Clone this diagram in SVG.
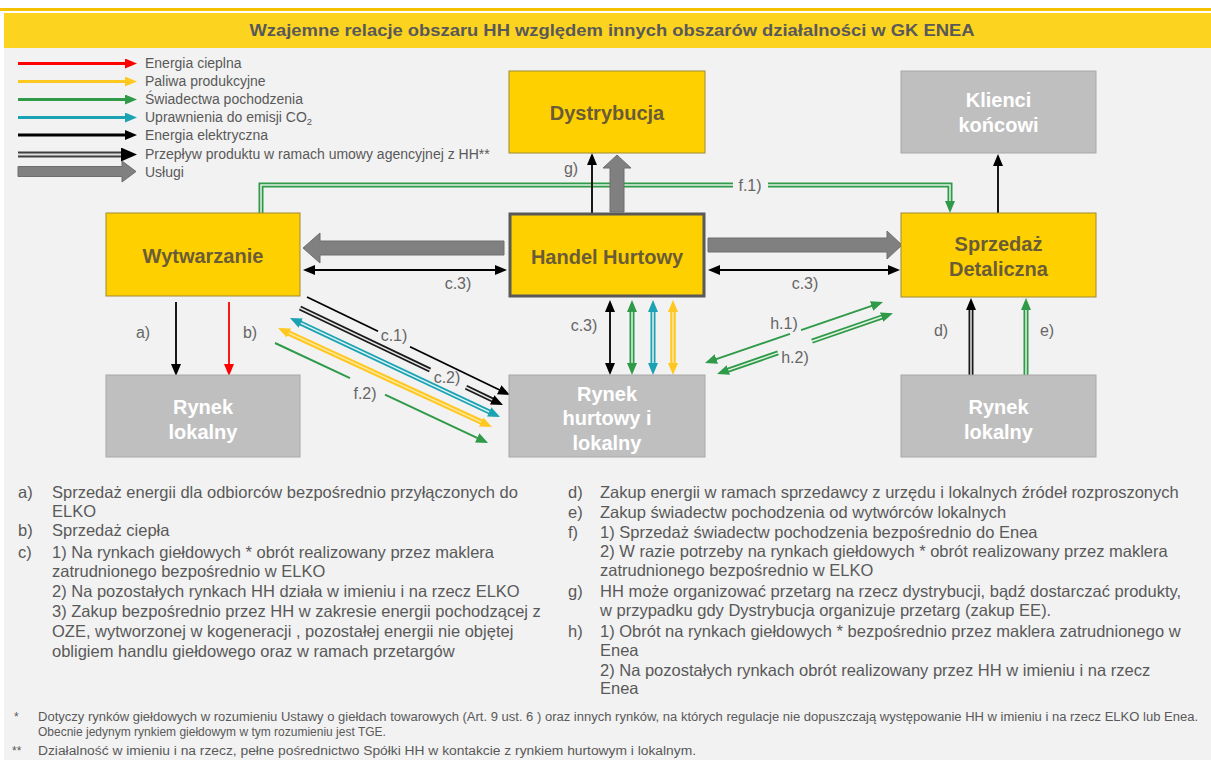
<svg xmlns="http://www.w3.org/2000/svg" width="1211" height="760" viewBox="0 0 1211 760">
<defs>
<style>
.by{fill:#ffd000;stroke:#a08a35;stroke-width:1}
.bh{fill:#ffd000;stroke:#595959;stroke-width:3}
.bg{fill:#bfbfbf;stroke:#a8a8a8;stroke-width:1}
.ty{font-family:'Liberation Sans',Arial,sans-serif;font-weight:bold;font-size:20px;fill:#6a5c37;text-anchor:middle}
.tg{font-family:'Liberation Sans',Arial,sans-serif;font-weight:bold;font-size:20px;fill:#ffffff;text-anchor:middle}
.lb{font-family:'Liberation Sans',Arial,sans-serif;font-size:16px;fill:#666666;text-anchor:middle}
.lg{font-family:'Liberation Sans',Arial,sans-serif;font-size:14px;fill:#595959}
.bd{font-family:'Liberation Sans',Arial,sans-serif;font-size:16.5px;fill:#595959}
.fn{font-family:'Liberation Sans',Arial,sans-serif;font-size:12px;fill:#595959}
.k{fill:none;stroke:#000;stroke-width:1.8}
.r{fill:none;stroke:#ff0000;stroke-width:1.8}
.gs{fill:none;stroke:#2f9a48;stroke-width:2}
.ko{fill:none;stroke:#1a1a1a;stroke-width:5}
.ki{fill:none;stroke:#e6e6e6;stroke-width:1.5}
.go{fill:none;stroke:#2f9a48;stroke-width:5}
.gi{fill:none;stroke:#e4f2e6;stroke-width:1.5}
.to{fill:none;stroke:#1ba3b3;stroke-width:5}
.ti{fill:none;stroke:#e3f4f6;stroke-width:1.5}
.yo{fill:none;stroke:#ffc820;stroke-width:5.5}
.yi{fill:none;stroke:#fde9a8;stroke-width:1.5}
.sv{fill:#808080;stroke:#6e6e6e;stroke-width:1}
.leg{fill:none;stroke-width:2.8}
</style>
<marker id="mk" markerUnits="userSpaceOnUse" markerWidth="14" markerHeight="12" refX="4" refY="5" orient="auto-start-reverse"><path d="M0,0 L12,5 L0,10 z" fill="#000"/></marker>
<marker id="mr" markerUnits="userSpaceOnUse" markerWidth="14" markerHeight="12" refX="4" refY="5" orient="auto-start-reverse"><path d="M0,0 L12,5 L0,10 z" fill="#ff0000"/></marker>
<marker id="mg" markerUnits="userSpaceOnUse" markerWidth="14" markerHeight="12" refX="4" refY="5" orient="auto-start-reverse"><path d="M0,0 L12,5 L0,10 z" fill="#2f9a48"/></marker>
<marker id="mt" markerUnits="userSpaceOnUse" markerWidth="14" markerHeight="12" refX="4" refY="5" orient="auto-start-reverse"><path d="M0,0 L12,5 L0,10 z" fill="#1ba3b3"/></marker>
<marker id="my" markerUnits="userSpaceOnUse" markerWidth="14" markerHeight="12" refX="4" refY="5" orient="auto-start-reverse"><path d="M0,0 L12,5 L0,10 z" fill="#ffc820"/></marker>
<marker id="mkl" markerUnits="userSpaceOnUse" markerWidth="18" markerHeight="16" refX="4" refY="7" orient="auto"><path d="M0,0 L16,7 L0,14 z" fill="#000"/></marker>
</defs>

<!-- background -->
<rect x="0" y="0" width="1211" height="760" fill="#ffffff"/>
<rect x="4" y="48" width="1207" height="712" fill="#f2f2f2"/>
<rect x="0" y="8" width="1211" height="3" fill="#f5c200"/>
<rect x="4" y="13" width="1207" height="35" fill="#fcd31e"/>
<text x="612" y="36" text-anchor="middle" font-family="'Liberation Sans',Arial,sans-serif" font-weight="bold" font-size="17" fill="#595959" textLength="725" lengthAdjust="spacingAndGlyphs">Wzajemne relacje obszaru HH względem innych obszarów działalności w GK ENEA</text>

<!-- legend -->
<g id="legend">
<path class="leg" stroke="#ff0000" d="M18,63.5 H129" marker-end="url(#mr)"/>
<path class="leg" stroke="#ffc820" d="M18,81.5 H129" marker-end="url(#my)"/>
<path class="leg" stroke="#2f9a48" d="M18,99.5 H129" marker-end="url(#mg)"/>
<path class="leg" stroke="#1ba3b3" d="M18,117.5 H129" marker-end="url(#mt)"/>
<path class="leg" stroke="#000000" d="M18,135 H129" marker-end="url(#mk)"/>
<path d="M18,154.5 H125" fill="none" stroke="#404040" stroke-width="6"/>
<path d="M18,154.5 H125" fill="none" stroke="#e0e0e0" stroke-width="2" marker-end="url(#mkl)"/>
<polygon class="sv" points="18,166.5 122,166.5 122,161 136,171.5 122,182 122,176.5 18,176.5"/>
<text class="lg" x="145" y="68">Energia cieplna</text>
<text class="lg" x="145" y="86">Paliwa produkcyjne</text>
<text class="lg" x="145" y="104">Świadectwa pochodzenia</text>
<text class="lg" x="145" y="122">Uprawnienia do emisji CO<tspan font-size="9.5" dy="3">2</tspan></text>
<text class="lg" x="145" y="139.5">Energia elektryczna</text>
<text class="lg" x="145" y="159">Przepływ produktu w ramach umowy agencyjnej z HH**</text>
<text class="lg" x="145" y="176.5">Usługi</text>
</g>

<!-- connectors -->
<g id="connectors">
<!-- f.1 -->
<path class="go" d="M261,213 V185 H733"/>
<path class="gi" d="M261,213 V185 H733"/>
<path class="go" d="M768,185 H950 V205"/>
<path class="gi" d="M768,185 H950 V205" marker-end="url(#mg)"/>
<!-- g -->
<path class="k" d="M592,213 V161" marker-end="url(#mk)"/>
<polygon class="sv" points="610,212 610,168 603,168 617,155 631,168 624,168 624,212"/>
<!-- services horizontal -->
<polygon class="sv" points="504,241 320,241 320,233 303,248 320,263 320,255 504,255"/>
<polygon class="sv" points="708,238 887,238 887,231 902,245 887,259 887,252 708,252"/>
<!-- c.3 horizontal -->
<path class="k" d="M311,270 H499" marker-start="url(#mk)" marker-end="url(#mk)"/>
<path class="k" d="M716,270 H892" marker-start="url(#mk)" marker-end="url(#mk)"/>
<!-- a, b -->
<path class="k" d="M176,302 V368" marker-end="url(#mk)"/>
<path class="r" d="M229,302 V368" marker-end="url(#mr)"/>
<!-- diagonals -->
<path class="k" d="M307,297 L378,331.3"/>
<path class="k" d="M410,346.7 L502.8,391.5" marker-end="url(#mk)"/>
<path class="ko" d="M300,308 L430,370.1"/>
<path class="ki" d="M300,308 L430,370.1"/>
<path class="ko" d="M466,387.3 L495.8,401.6"/>
<path class="ki" d="M466,387.3 L495.8,401.6" marker-end="url(#mk)"/>
<path class="to" d="M297.2,321.4 L492.8,413.6"/>
<path class="ti" d="M297.2,321.4 L492.8,413.6" marker-start="url(#mt)" marker-end="url(#mt)"/>
<path class="yo" d="M285.3,331.4 L484.7,423.6"/>
<path class="yi" d="M285.3,331.4 L484.7,423.6" marker-start="url(#my)" marker-end="url(#my)"/>
<path class="gs" d="M275,343 L350,378.2"/>
<path class="gs" d="M385,394.6 L480.8,439.6" marker-end="url(#mg)"/>
<!-- middle verticals -->
<path class="k" d="M610,308 V367" marker-start="url(#mk)" marker-end="url(#mk)"/>
<path class="go" d="M632,308 V367"/>
<path class="gi" d="M632,308 V367" marker-start="url(#mg)" marker-end="url(#mg)"/>
<path class="to" d="M653,308 V367"/>
<path class="ti" d="M653,308 V367" marker-start="url(#mt)" marker-end="url(#mt)"/>
<path class="yo" d="M673,308 V367"/>
<path class="yi" d="M673,308 V367" marker-start="url(#my)" marker-end="url(#my)"/>
<!-- h.1 / h.2 -->
<path class="gs" d="M712.6,360.4 L790,333.9" marker-start="url(#mg)"/>
<path class="gs" d="M801,330.1 L875.4,304.6" marker-end="url(#mg)"/>
<path class="go" d="M724.6,371.4 L778,352.9"/>
<path class="gi" d="M724.6,371.4 L778,352.9" marker-start="url(#mg)"/>
<path class="go" d="M812,341.2 L885.4,315.8"/>
<path class="gi" d="M812,341.2 L885.4,315.8" marker-end="url(#mg)"/>
<!-- d, e -->
<path class="ko" d="M971,375 V306"/>
<path class="ki" d="M971,375 V306" marker-end="url(#mk)"/>
<path class="go" d="M1026,375 V306"/>
<path class="gi" d="M1026,375 V306" marker-end="url(#mg)"/>
<!-- to Klienci -->
<path class="k" d="M998,213 V162" marker-end="url(#mk)"/>
<!-- labels -->
<text class="lb" x="750" y="191">f.1)</text>
<text class="lb" x="571" y="174">g)</text>
<text class="lb" x="458" y="289">c.3)</text>
<text class="lb" x="805" y="289">c.3)</text>
<text class="lb" x="584" y="331">c.3)</text>
<text class="lb" x="143" y="338">a)</text>
<text class="lb" x="250" y="338">b)</text>
<text class="lb" x="394" y="341">c.1)</text>
<text class="lb" x="447" y="383">c.2)</text>
<text class="lb" x="365" y="399">f.2)</text>
<text class="lb" x="784" y="329">h.1)</text>
<text class="lb" x="795" y="363">h.2)</text>
<text class="lb" x="941" y="336">d)</text>
<text class="lb" x="1047" y="336">e)</text>
</g>

<!-- nodes -->
<g id="dystrybucja"><rect class="by" x="509" y="71" width="196" height="82"/><text class="ty" x="607" y="120">Dystrybucja</text></g>
<g id="klienci"><rect class="bg" x="901" y="71" width="195" height="82"/><text class="tg" x="998.5" y="107">Klienci</text><text class="tg" x="998.5" y="132">końcowi</text></g>
<g id="wytwarzanie"><rect class="by" x="106" y="213" width="194" height="83"/><text class="ty" x="203" y="263">Wytwarzanie</text></g>
<g id="handel"><rect class="bh" x="510" y="214" width="194" height="82"/><text class="ty" x="607" y="264">Handel Hurtowy</text></g>
<g id="sprzedaz"><rect class="by" x="901" y="213" width="195" height="84"/><text class="ty" x="998.5" y="251">Sprzedaż</text><text class="ty" x="998.5" y="276">Detaliczna</text></g>
<g id="rynek-lokalny-l"><rect class="bg" x="106" y="375" width="194" height="82"/><text class="tg" x="203" y="414">Rynek</text><text class="tg" x="203" y="439">lokalny</text></g>
<g id="rynek-hurtowy"><rect class="bg" x="509" y="375" width="196" height="82"/><text class="tg" x="607" y="401">Rynek</text><text class="tg" x="607" y="425">hurtowy i</text><text class="tg" x="607" y="450">lokalny</text></g>
<g id="rynek-lokalny-r"><rect class="bg" x="901" y="375" width="195" height="82"/><text class="tg" x="998.5" y="414">Rynek</text><text class="tg" x="998.5" y="439">lokalny</text></g>

<!-- notes -->
<g id="notes-left" class="bd">
<text x="18" y="498">a)</text><text x="52" y="498">Sprzedaż energii dla odbiorców bezpośrednio przyłączonych do</text>
<text x="52" y="517">ELKO</text>
<text x="18" y="536">b)</text><text x="52" y="536">Sprzedaż ciepła</text>
<text x="18" y="558">c)</text><text x="52" y="558">1) Na rynkach giełdowych * obrót realizowany przez maklera</text>
<text x="52" y="577">zatrudnionego bezpośrednio w ELKO</text>
<text x="52" y="597">2) Na pozostałych rynkach HH działa w imieniu i na rzecz ELKO</text>
<text x="52" y="617">3) Zakup bezpośrednio przez HH w zakresie energii pochodzącej z</text>
<text x="52" y="637">OZE, wytworzonej w kogeneracji , pozostałej energii nie objętej</text>
<text x="52" y="657">obligiem handlu giełdowego oraz w ramach przetargów</text>
</g>
<g id="notes-right" class="bd">
<text x="568" y="498">d)</text><text x="600" y="498">Zakup energii w ramach sprzedawcy z urzędu i lokalnych źródeł rozproszonych</text>
<text x="568" y="518">e)</text><text x="600" y="518">Zakup świadectw pochodzenia od wytwórców lokalnych</text>
<text x="568" y="538">f)</text><text x="600" y="538">1) Sprzedaż świadectw pochodzenia bezpośrednio do Enea</text>
<text x="600" y="557">2) W razie potrzeby na rynkach giełdowych * obrót realizowany przez maklera</text>
<text x="600" y="576">zatrudnionego bezpośrednio w ELKO</text>
<text x="568" y="597">g)</text><text x="600" y="597">HH może organizować przetarg na rzecz dystrybucji, bądź dostarczać produkty,</text>
<text x="600" y="616">w przypadku gdy Dystrybucja organizuje przetarg (zakup EE).</text>
<text x="568" y="637">h)</text><text x="600" y="637">1) Obrót na rynkach giełdowych * bezpośrednio przez maklera zatrudnionego w</text>
<text x="600" y="656">Enea</text>
<text x="600" y="676">2) Na pozostałych rynkach obrót realizowany przez HH w imieniu i na rzecz</text>
<text x="600" y="694">Enea</text>
</g>
<g id="footnotes" class="fn">
<text x="14" y="721">*</text>
<text x="38" y="721" textLength="1160" lengthAdjust="spacingAndGlyphs">Dotyczy rynków giełdowych w rozumieniu Ustawy o giełdach towarowych (Art. 9 ust. 6 ) oraz innych rynków, na których regulacje nie dopuszczają występowanie HH w imieniu i na rzecz ELKO lub Enea.</text>
<text x="38" y="736">Obecnie jedynym rynkiem giełdowym w tym rozumieniu jest TGE.</text>
<text x="12" y="755">**</text>
<text x="38" y="755" textLength="658" lengthAdjust="spacingAndGlyphs">Działalność w imieniu i na rzecz, pełne pośrednictwo Spółki HH w kontakcie z rynkiem hurtowym i lokalnym.</text>
</g>
</svg>
